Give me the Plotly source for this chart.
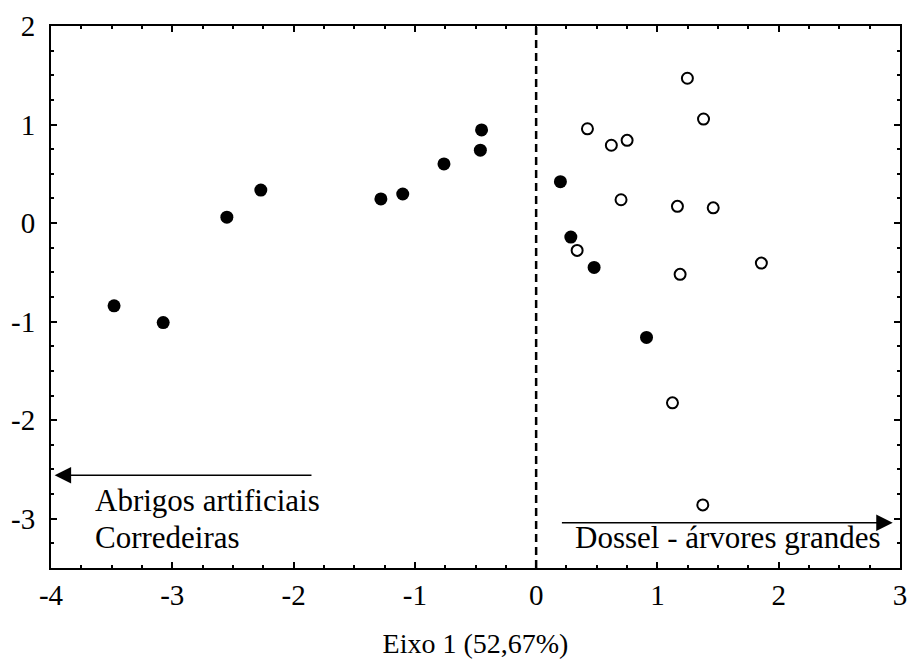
import plotly.graph_objects as go

# Data
filled_x = [-3.48, -3.075, -2.55, -2.27, -1.28, -1.10, -0.76, -0.46, -0.45, 0.20, 0.286, 0.478, 0.91]
filled_y = [-0.84, -1.01, 0.06, 0.335, 0.245, 0.295, 0.60, 0.74, 0.945, 0.42, -0.142, -0.45, -1.16]
open_x = [1.247, 1.38, 0.423, 0.62, 0.75, 0.70, 1.165, 1.46, 0.338, 1.187, 1.857, 1.124, 1.374]
open_y = [1.47, 1.056, 0.957, 0.79, 0.84, 0.237, 0.17, 0.155, -0.277, -0.52, -0.406, -1.824, -2.86]

x_ticks = [-4, -3, -2, -1, 0, 1, 2, 3]
x_ticklabels = ["-4", "-3", "-2", "-1", "0", "1", "2", "3"]
y_ticks = [-3, -2, -1, 0, 1, 2]
y_ticklabels = ["-3", "-2", "-1", "0", "1", "2"]

x_title = "Eixo 1 (52,67%)"
left_labels = ["Abrigos artificiais", "Corredeiras"]
right_label = "Dossel - árvores grandes"

FONT = "Liberation Serif"

fig = go.Figure()
fig.add_trace(go.Scatter(x=filled_x, y=filled_y, mode="markers",
                         marker=dict(symbol="circle", size=13, color="black"),
                         showlegend=False))
fig.add_trace(go.Scatter(x=open_x, y=open_y, mode="markers",
                         marker=dict(symbol="circle-open", size=11, color="black",
                                     line=dict(width=2, color="black")),
                         showlegend=False))

# dashed vertical line at x=0
fig.add_shape(type="line", x0=0, x1=0, y0=0, y1=1, xref="x", yref="paper",
              line=dict(color="black", width=2.5, dash="8px,5px"))

# arrows
fig.add_annotation(x=-3.97, y=-2.56, ax=-1.84, ay=-2.56, xref="x", yref="y",
                   axref="x", ayref="y", text="", showarrow=True,
                   arrowhead=2, arrowsize=2.2, arrowwidth=1.5, arrowcolor="black")
fig.add_annotation(x=2.94, y=-3.04, ax=0.2, ay=-3.04, xref="x", yref="y",
                   axref="x", ayref="y", text="", showarrow=True,
                   arrowhead=2, arrowsize=2.2, arrowwidth=1.5, arrowcolor="black")

fig.add_annotation(x=-3.65, y=-2.81, text=left_labels[0], showarrow=False,
                   xanchor="left", yanchor="middle", font=dict(family=FONT, size=31, color="black"))
fig.add_annotation(x=-3.65, y=-3.19, text=left_labels[1], showarrow=False,
                   xanchor="left", yanchor="middle", font=dict(family=FONT, size=31, color="black"))
fig.add_annotation(x=0.30, y=-3.19, text=right_label, showarrow=False,
                   xanchor="left", yanchor="middle", font=dict(family=FONT, size=31, color="black"))

axis_common = dict(showgrid=False, zeroline=False, showline=True, linecolor="black",
                   linewidth=2, mirror="ticks", ticks="inside", ticklen=6, tickwidth=2,
                   tickcolor="black", automargin=False,
                   tickfont=dict(family=FONT, size=29, color="black"))

fig.update_xaxes(range=[-4, 3], tickvals=x_ticks, ticktext=x_ticklabels,
                 minor=dict(ticks="inside", dtick=0.25, ticklen=3, tickwidth=2, tickcolor="black"),
                 title=dict(text=x_title, font=dict(family=FONT, size=28, color="black"), standoff=24),
                 **axis_common)
fig.update_yaxes(range=[-3.5, 2], tickvals=y_ticks, ticktext=y_ticklabels,
                 ticklabelstandoff=8,
                 minor=dict(ticks="inside", dtick=0.25, ticklen=3, tickwidth=2, tickcolor="black"),
                 **axis_common)

fig.update_layout(width=909, height=666, margin=dict(l=51, r=9, t=26, b=98),
                  plot_bgcolor="white", paper_bgcolor="white",
                  font=dict(family=FONT, color="black"))

fig.write_html("out.html")
